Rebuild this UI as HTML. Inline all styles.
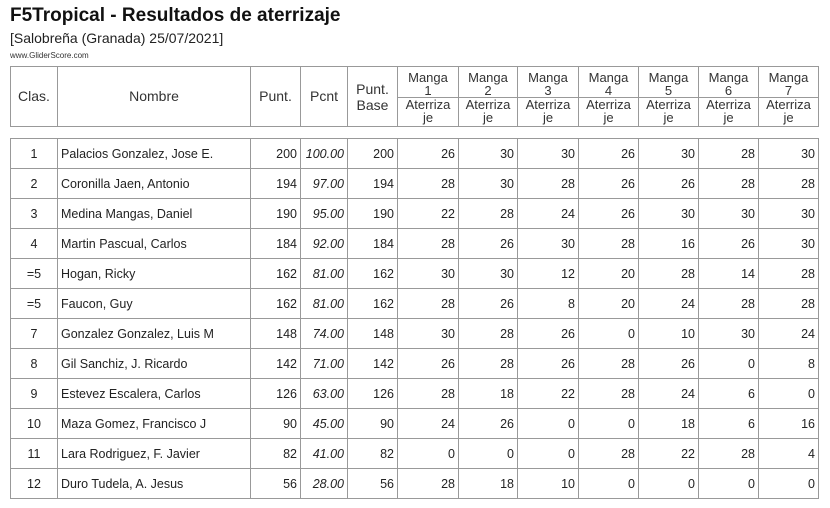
<!DOCTYPE html>
<html><head><meta charset="utf-8"><style>
body{margin:0;width:830px;height:508px;background:#fff;font-family:"Liberation Sans",Arial,sans-serif;color:#222;position:relative;overflow:hidden}
.t{position:absolute;left:10px;top:5px;font-size:19px;font-weight:bold;color:#111}
.s{position:absolute;left:10px;top:30px;font-size:14px;color:#222}
.w{position:absolute;left:10px;top:51px;font-size:8px;color:#333}
table{position:absolute;left:10px;border-collapse:collapse;table-layout:fixed}
td{border:1px solid #999;padding:0 3px;white-space:nowrap;overflow:hidden}
#h{top:66px}
#h td{text-align:center;font-size:13px;line-height:13px;color:#333}
#d{top:138px}
#d td{height:29px;font-size:12.5px;text-align:right;color:#222}
#d td.c{text-align:center}
#d td.n{text-align:left}
#d td.i{font-style:italic}
</style></head><body>
<div class="t">F5Tropical - Resultados de aterrizaje</div>
<div class="s">[Salobreña (Granada) 25/07/2021]</div>
<div class="w">www.GliderScore.com</div>
<table id="h">
<colgroup><col style="width:47px"><col style="width:193px"><col style="width:50px"><col style="width:47px"><col style="width:50px"><col style="width:61px"><col style="width:59px"><col style="width:61px"><col style="width:60px"><col style="width:60px"><col style="width:60px"><col style="width:60px"></colgroup>
<tr style="height:31px"><td rowspan="2" style="font-size:14px">Clas.</td><td rowspan="2" style="font-size:14px">Nombre</td><td rowspan="2" style="font-size:14px">Punt.</td><td rowspan="2" style="font-size:14px">Pcnt</td><td rowspan="2" style="font-size:14px;line-height:16px">Punt.<br>Base</td>
<td style="vertical-align:bottom">Manga<br>1</td><td style="vertical-align:bottom">Manga<br>2</td><td style="vertical-align:bottom">Manga<br>3</td><td style="vertical-align:bottom">Manga<br>4</td><td style="vertical-align:bottom">Manga<br>5</td><td style="vertical-align:bottom">Manga<br>6</td><td style="vertical-align:bottom">Manga<br>7</td></tr>
<tr style="height:29px"><td style="vertical-align:top;padding:0">Aterriza<br>je</td><td style="vertical-align:top;padding:0">Aterriza<br>je</td><td style="vertical-align:top;padding:0">Aterriza<br>je</td><td style="vertical-align:top;padding:0">Aterriza<br>je</td><td style="vertical-align:top;padding:0">Aterriza<br>je</td><td style="vertical-align:top;padding:0">Aterriza<br>je</td><td style="vertical-align:top;padding:0">Aterriza<br>je</td></tr>
</table>
<table id="d">
<colgroup><col style="width:47px"><col style="width:193px"><col style="width:50px"><col style="width:47px"><col style="width:50px"><col style="width:61px"><col style="width:59px"><col style="width:61px"><col style="width:60px"><col style="width:60px"><col style="width:60px"><col style="width:60px"></colgroup>
<tr><td class="c">1</td><td class="n">Palacios Gonzalez, Jose E.</td><td>200</td><td class="i">100.00</td><td>200</td><td>26</td><td>30</td><td>30</td><td>26</td><td>30</td><td>28</td><td>30</td></tr>
<tr><td class="c">2</td><td class="n">Coronilla Jaen, Antonio</td><td>194</td><td class="i">97.00</td><td>194</td><td>28</td><td>30</td><td>28</td><td>26</td><td>26</td><td>28</td><td>28</td></tr>
<tr><td class="c">3</td><td class="n">Medina Mangas, Daniel</td><td>190</td><td class="i">95.00</td><td>190</td><td>22</td><td>28</td><td>24</td><td>26</td><td>30</td><td>30</td><td>30</td></tr>
<tr><td class="c">4</td><td class="n">Martin Pascual, Carlos</td><td>184</td><td class="i">92.00</td><td>184</td><td>28</td><td>26</td><td>30</td><td>28</td><td>16</td><td>26</td><td>30</td></tr>
<tr><td class="c">=5</td><td class="n">Hogan, Ricky</td><td>162</td><td class="i">81.00</td><td>162</td><td>30</td><td>30</td><td>12</td><td>20</td><td>28</td><td>14</td><td>28</td></tr>
<tr><td class="c">=5</td><td class="n">Faucon, Guy</td><td>162</td><td class="i">81.00</td><td>162</td><td>28</td><td>26</td><td>8</td><td>20</td><td>24</td><td>28</td><td>28</td></tr>
<tr><td class="c">7</td><td class="n">Gonzalez Gonzalez, Luis M</td><td>148</td><td class="i">74.00</td><td>148</td><td>30</td><td>28</td><td>26</td><td>0</td><td>10</td><td>30</td><td>24</td></tr>
<tr><td class="c">8</td><td class="n">Gil Sanchiz, J. Ricardo</td><td>142</td><td class="i">71.00</td><td>142</td><td>26</td><td>28</td><td>26</td><td>28</td><td>26</td><td>0</td><td>8</td></tr>
<tr><td class="c">9</td><td class="n">Estevez Escalera, Carlos</td><td>126</td><td class="i">63.00</td><td>126</td><td>28</td><td>18</td><td>22</td><td>28</td><td>24</td><td>6</td><td>0</td></tr>
<tr><td class="c">10</td><td class="n">Maza Gomez, Francisco J</td><td>90</td><td class="i">45.00</td><td>90</td><td>24</td><td>26</td><td>0</td><td>0</td><td>18</td><td>6</td><td>16</td></tr>
<tr><td class="c">11</td><td class="n">Lara Rodriguez, F. Javier</td><td>82</td><td class="i">41.00</td><td>82</td><td>0</td><td>0</td><td>0</td><td>28</td><td>22</td><td>28</td><td>4</td></tr>
<tr><td class="c">12</td><td class="n">Duro Tudela, A. Jesus</td><td>56</td><td class="i">28.00</td><td>56</td><td>28</td><td>18</td><td>10</td><td>0</td><td>0</td><td>0</td><td>0</td></tr>
</table>
</body></html>
